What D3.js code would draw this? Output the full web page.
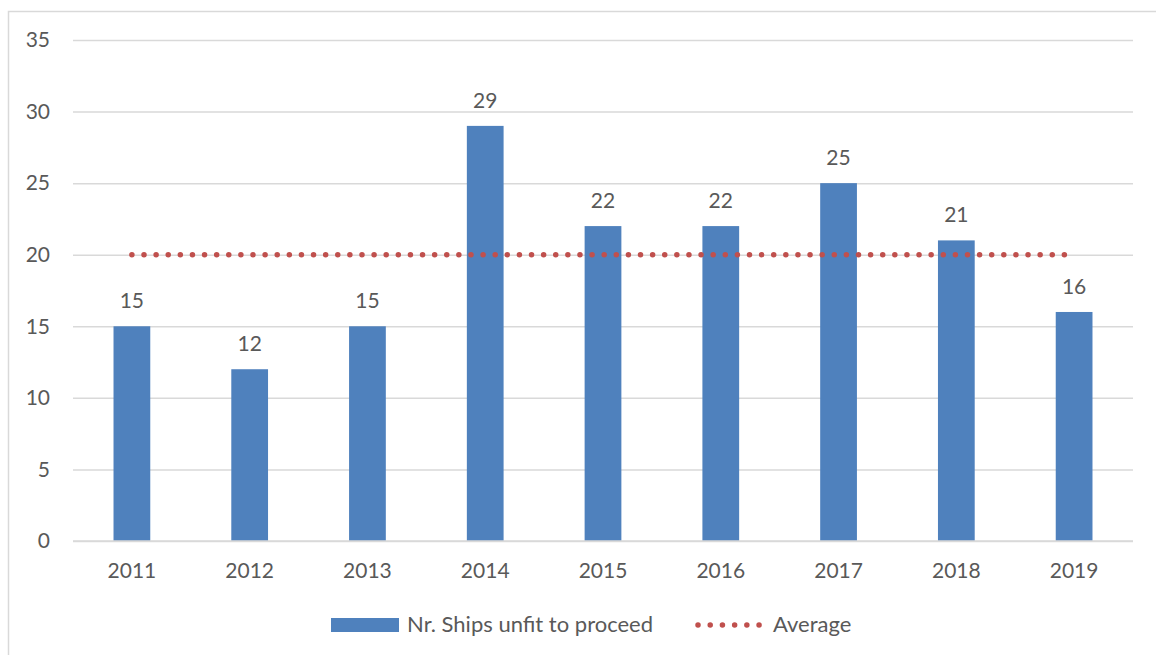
<!DOCTYPE html>
<html><head><meta charset="utf-8">
<script src="https://cdn.jsdelivr.net/npm/d3@7"></script>
<style>body{margin:0;background:#fff}svg{display:block}text{font-family:Lato,"Open Sans",sans-serif;fill:#595959}</style>
</head><body>
<script>
const years = ["2011","2012","2013","2014","2015","2016","2017","2018","2019"];
const unfit = [15,12,15,29,22,22,25,21,16];
const average = [20,20,20,20,20,20,20,20,20];
const yTicks = [0,5,10,15,20,25,30,35];
const seriesNames = ["Nr. Ships unfit to proceed","Average"];

const W=1156,H=655;
const svg=d3.select("body").append("svg").attr("width",W).attr("height",H);
svg.append("rect").attr("x",8.5).attr("y",11.5).attr("width",W+10).attr("height",H+10)
  .attr("fill","none").attr("stroke","#d9d9d9").attr("stroke-width",1.5);

const x=d3.scaleBand().domain(years).range([73,1133]).paddingInner(0.688).paddingOuter(0.344);
const y=d3.scaleLinear().domain([0,35]).range([541,40]);

const g=svg.append("g");
const yAxis=d3.axisLeft(y).tickValues(yTicks).tickSize(-(1133-73)).tickPadding(23);
const ya=g.append("g").attr("transform","translate(73,0)").call(yAxis);
ya.select(".domain").remove();
ya.selectAll("line").attr("stroke","#d9d9d9").attr("stroke-width",1.5);
ya.selectAll("text").style("font-size","21px").style("font-family","Lato").attr("fill","#595959");

g.selectAll("rect.bar").data(unfit).join("rect").attr("class","bar")
  .attr("x",(d,i)=>x(years[i])).attr("width",x.bandwidth())
  .attr("y",d=>y(d)).attr("height",d=>y(0)-y(d)).attr("fill","#4f81bd");

const xAxis=d3.axisBottom(x).tickSize(0).tickPadding(22);
const xa=g.append("g").attr("transform","translate(0,541)").call(xAxis);
xa.select(".domain").remove();
xa.selectAll("text").style("font-size","21px").style("font-family","Lato").attr("fill","#595959");
g.append("line").attr("x1",73).attr("x2",1133).attr("y1",y(0)).attr("y2",y(0)).attr("stroke","#d9d9d9").attr("stroke-width",1.5);

g.selectAll("text.val").data(unfit).join("text").attr("class","val")
  .attr("x",(d,i)=>x(years[i])+x.bandwidth()/2).attr("y",d=>y(d)-18)
  .attr("text-anchor","middle").style("font-size","21px").text(d=>d);

const line=d3.line().x((d,i)=>x(years[i])+x.bandwidth()/2).y(d=>y(d));
g.append("path").datum(average).attr("d",line).attr("fill","none")
  .attr("stroke","#c0504d").attr("stroke-width",5.5).attr("stroke-linecap","round")
  .attr("stroke-dasharray","0.01 12.1");

// legend
const lg=svg.append("g");
lg.append("rect").attr("x",331).attr("y",618).attr("width",68).attr("height",14).attr("fill","#4f81bd");
lg.append("text").attr("x",407).attr("y",632).style("font-size","22px").text(seriesNames[0]);
lg.append("line").attr("x1",698).attr("x2",759.5).attr("y1",625).attr("y2",625)
  .attr("stroke","#c0504d").attr("stroke-width",5.5).attr("stroke-linecap","round").attr("stroke-dasharray","0.01 12.2");
lg.append("text").attr("x",773).attr("y",632).style("font-size","22px").text(seriesNames[1]);
</script>
</body></html>
